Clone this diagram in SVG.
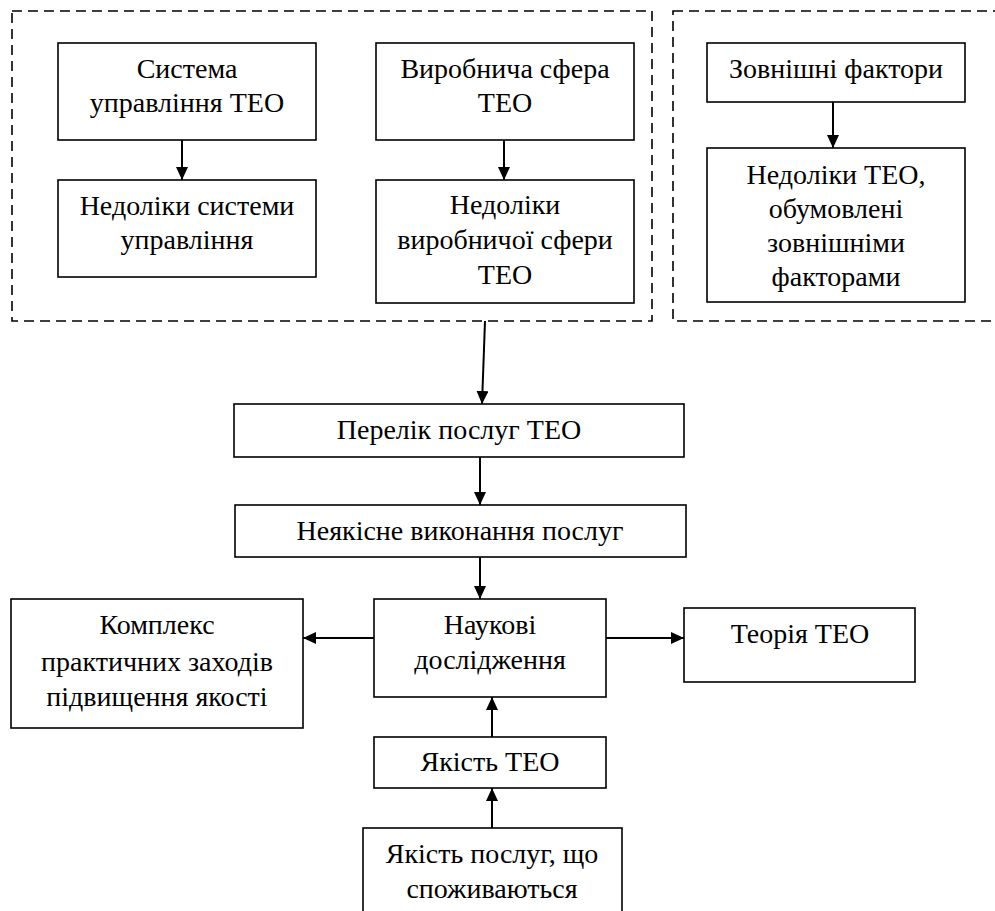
<svg xmlns="http://www.w3.org/2000/svg" width="995" height="911" viewBox="0 0 995 911">
<defs>
<style>
.box{fill:#fff;stroke:#000;stroke-width:1.6}
.grp{fill:none;stroke:#000;stroke-width:1.6;stroke-dasharray:10 6}
text{font-family:'Liberation Serif','Tinos','Times New Roman','DejaVu Serif',serif;font-size:28px;fill:#000;text-anchor:middle}
.c{fill:none;stroke:#000;stroke-width:2;marker-end:url(#ah)}
</style>
<marker id="ah" markerUnits="userSpaceOnUse" markerWidth="13" markerHeight="12" refX="13" refY="6" orient="auto">
<path d="M0,0 L13,6 L0,12 Z" fill="#000"/>
</marker>
</defs>
<rect width="995" height="911" fill="#fff"/>
<g id="groups">
<rect class="grp" x="12" y="11" width="640" height="310"/>
<rect class="grp" x="673" y="11" width="340" height="310"/>
</g>
<g id="nodes" font-family="Liberation Serif, Tinos, Times New Roman, DejaVu Serif, serif">
<g id="n-sys"><rect class="box" x="58" y="43" width="258" height="97"/><text x="187" y="78">Система</text><text x="187" y="112">управління ТЕО</text></g>
<g id="n-sys-def"><rect class="box" x="58" y="180" width="258" height="97"/><text x="187" y="215">Недоліки системи</text><text x="187" y="249">управління</text></g>
<g id="n-prod"><rect class="box" x="376" y="43" width="258" height="97"/><text x="505" y="78">Виробнича сфера</text><text x="505" y="112">ТЕО</text></g>
<g id="n-prod-def"><rect class="box" x="376" y="180" width="258" height="123"/><text x="505" y="214">Недоліки</text><text x="505" y="249">виробничої сфери</text><text x="505" y="284">ТЕО</text></g>
<g id="n-ext"><rect class="box" x="707" y="43" width="258" height="59"/><text x="836" y="78">Зовнішні фактори</text></g>
<g id="n-ext-def"><rect class="box" x="707" y="148" width="258" height="154"/><text x="836" y="184">Недоліки ТЕО,</text><text x="836" y="218">обумовлені</text><text x="836" y="252">зовнішніми</text><text x="836" y="286">факторами</text></g>
<g id="n-list"><rect class="box" x="234" y="404" width="450" height="53"/><text x="459" y="439">Перелік послуг ТЕО</text></g>
<g id="n-poor"><rect class="box" x="235" y="505" width="451" height="52"/><text x="460" y="540">Неякісне виконання послуг</text></g>
<g id="n-research"><rect class="box" x="374" y="599" width="232" height="98"/><text x="490" y="634">Наукові</text><text x="490" y="669">дослідження</text></g>
<g id="n-complex"><rect class="box" x="11" y="599" width="292" height="129"/><text x="157" y="634">Комплекс</text><text x="157" y="671">практичних заходів</text><text x="157" y="706">підвищення якості</text></g>
<g id="n-theory"><rect class="box" x="684" y="608" width="231" height="74"/><text x="800" y="643">Теорія ТЕО</text></g>
<g id="n-quality"><rect class="box" x="374" y="737" width="232" height="51"/><text x="490" y="771">Якість ТЕО</text></g>
<g id="n-consumed"><rect class="box" x="363" y="828" width="259" height="100"/><text x="492" y="863">Якість послуг, що</text><text x="492" y="898">споживаються</text></g>
</g>
<g id="connectors">
<line class="c" x1="182" y1="140" x2="182" y2="180"/>
<line class="c" x1="504" y1="140" x2="504" y2="180"/>
<line class="c" x1="833" y1="102" x2="833" y2="148"/>
<line class="c" x1="485" y1="321" x2="482" y2="404"/>
<line class="c" x1="480" y1="457" x2="480" y2="505"/>
<line class="c" x1="480" y1="557" x2="480" y2="599"/>
<line class="c" x1="374" y1="638" x2="303" y2="638"/>
<line class="c" x1="606" y1="638" x2="684" y2="638"/>
<line class="c" x1="492" y1="737" x2="492" y2="697"/>
<line class="c" x1="492" y1="828" x2="492" y2="788"/>
</g>
</svg>
